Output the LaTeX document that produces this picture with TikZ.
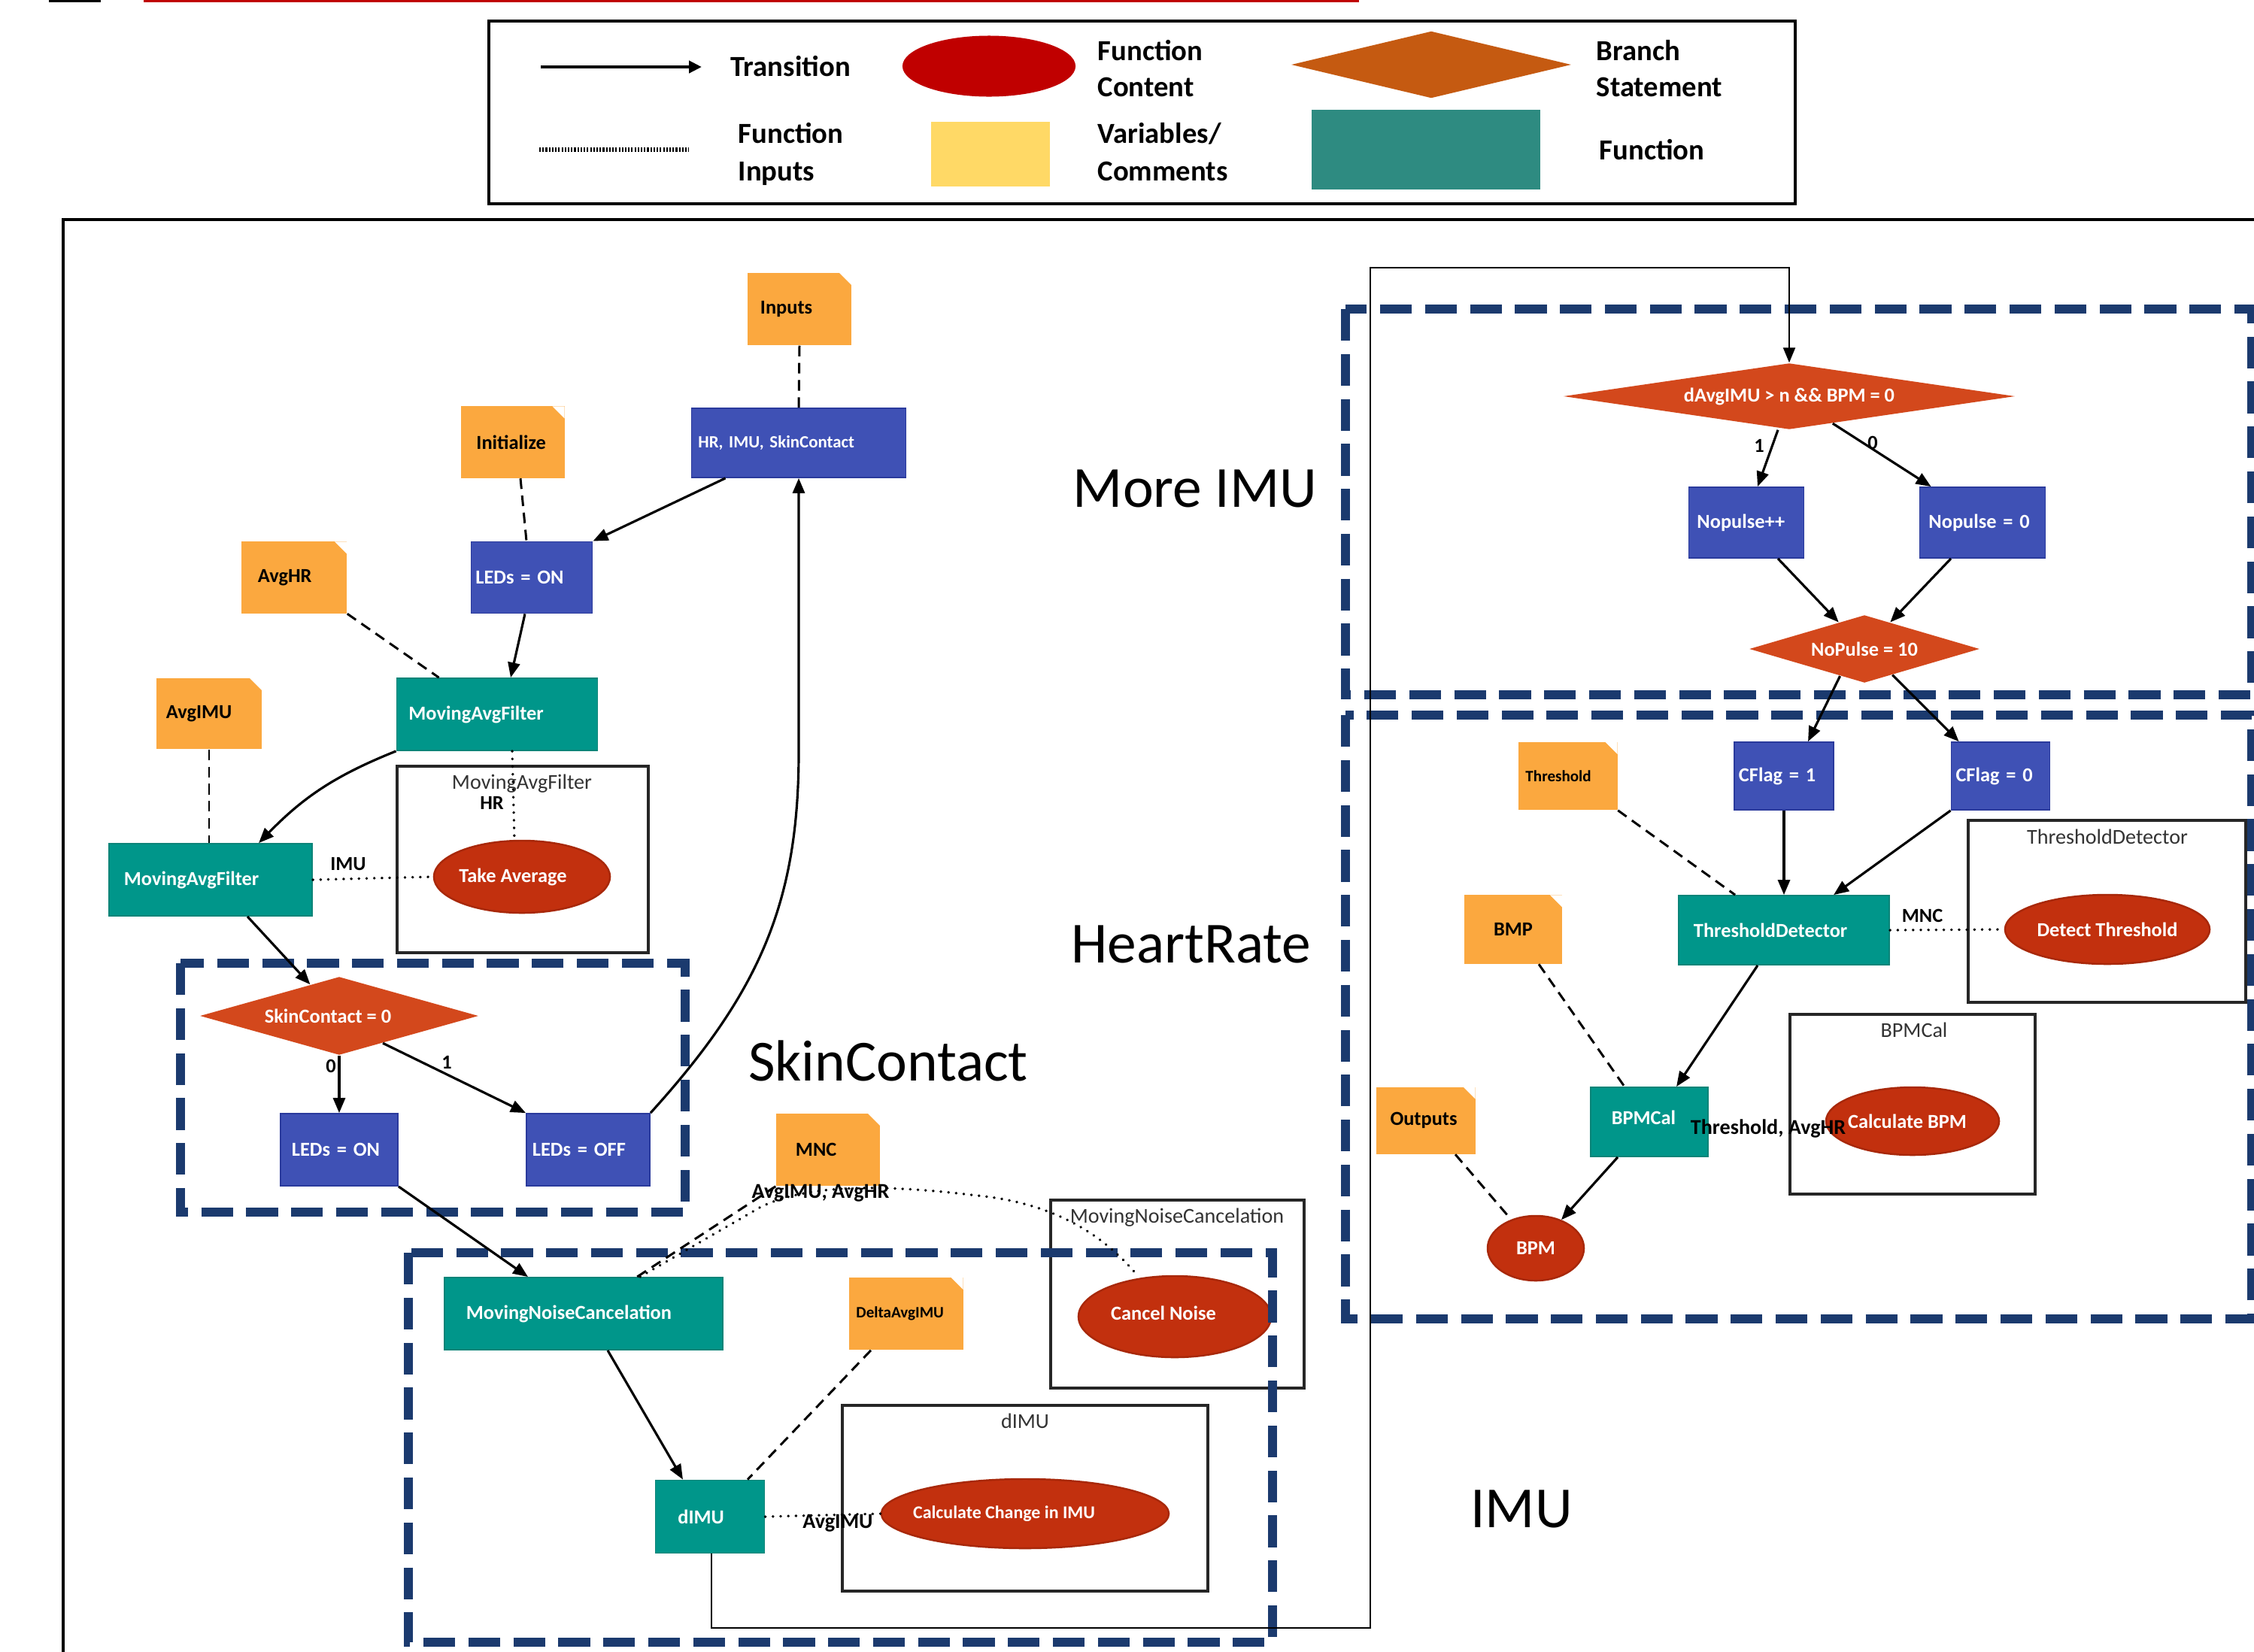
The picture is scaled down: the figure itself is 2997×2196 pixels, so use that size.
\documentclass[tikz,border=0pt]{standalone}
\usepackage{fontspec}
\setmainfont{Carlito}
\usetikzlibrary{arrows.meta,shapes.geometric}
\definecolor{varor}{HTML}{FBA83F}
\definecolor{fnblue}{HTML}{3F51B5}
\definecolor{fnblueb}{HTML}{2A3A9C}
\definecolor{fnteal}{HTML}{00968A}
\definecolor{fntealb}{HTML}{0B8478}
\definecolor{brred}{HTML}{D3481C}
\definecolor{elred}{HTML}{C2300E}
\definecolor{elredb}{HTML}{A8280A}
\definecolor{navyc}{HTML}{1B3A6E}
\definecolor{ttl}{HTML}{333333}
\definecolor{lgred}{HTML}{C00000}
\definecolor{lgorange}{HTML}{C55A11}
\definecolor{lgyellow}{HTML}{FFD966}
\definecolor{lgteal}{HTML}{2E8B81}
\tikzset{
  bf/.style={font=\bfseries\fontsize{#1}{#1}\selectfont},
  bbase/.style={rectangle, inner ysep=0pt, align=left},
  fnb/.style={bbase, fill=fnblue, draw=fnblueb, line width=0.5pt, text=white, bf=7.5},
  fnt/.style={bbase, fill=fnteal, draw=fntealb, line width=0.5pt, text=white, bf=7.5},
  note/.style={bbase, fill=varor, text=black, bf=7.5,
     path picture={\fill[white] ([xshift=-0.16cm]path picture bounding box.north east) -- (path picture bounding box.north east) -- ([yshift=-0.16cm]path picture bounding box.north east) -- cycle;}},
  brd/.style={diamond, fill=brred, text=white, inner sep=0pt, bf=7.5},
  ell/.style={ellipse, fill=elred, draw=elredb, line width=0.7pt, text=white, inner sep=0pt, bf=7.5},
  etxt/.style={text=white, inner sep=0pt, bf=7.5},
  lbl/.style={text=black, inner sep=0pt, bf=7.5},
  ttlf/.style={text=ttl, inner sep=0pt, font=\fontsize{8}{9}\selectfont},
  big/.style={inner sep=0pt, font=\fontsize{22}{26}\selectfont},
  lgt/.style={inner sep=0pt, anchor=west, text height=0.27cm, text depth=0cm, bf=11},
  frm/.style={draw=black!85, line width=0.9pt},
  arr/.style={draw=black, line width=0.9pt, -{Triangle[length=0.2cm,width=0.16cm]}},
  dsh/.style={draw=black, line width=0.85pt, dash pattern=on 4pt off 2.5pt},
  dotl/.style={draw=black, line width=1.0pt, dash pattern=on 0.1pt off 2.8pt, line cap=round},
  navyb/.style={draw=navyc, line width=3.4pt, dash pattern=on 12pt off 5pt},
}
\begin{document}
\begin{tikzpicture}[x=0.01cm,y=-0.01cm]
\useasboundingbox (0,0) rectangle (2997,2196);
\fill[white] (0,0) rectangle (2997,2196);
% top marks
\fill[lgred] (191,0) rectangle (1807,3);
\fill[black] (65,0) rectangle (134,3);
% legend
\draw[line width=1.1pt] (650,28) rectangle (2387,271);
\coordinate (lga) at (719,89); \coordinate (lgb) at (933,89);
\draw[line width=1.4pt, -{Triangle[length=0.17cm,width=0.16cm]}] (lga) -- (lgb);
\node[lgt] (lt1) at (971,88) {Transition};
\node[ellipse, fill=lgred, minimum width=2.30cm, minimum height=0.81cm, inner sep=0pt] (lgell) at (1315,88) {};
\node[lgt] (lt2) at (1459,67) {Function};
\node[lgt] (lt3) at (1459,115) {Content};
\node[diamond, fill=lgorange, minimum width=3.72cm, minimum height=0.89cm, aspect=4, inner sep=0pt] (lgdia) at (1903,86) {};
\node[lgt] (lt4) at (2122,67) {Branch};
\node[lgt] (lt5) at (2122,115) {Statement};
\coordinate (lgc) at (717,199); \coordinate (lgd) at (916,199);
\draw[line width=1.6pt, dash pattern=on 0.6pt off 0.6pt] (lgc) -- (lgd);
\node[lgt] (lt6) at (981,177) {Function};
\node[lgt] (lt7) at (981,227) {Inputs};
\node[fill=lgyellow, minimum width=1.57cm, minimum height=0.85cm, inner sep=0pt] (lgyel) at (1317,205) {};
\node[lgt] (lt8) at (1459,177) {Variables/};
\node[lgt] (lt9) at (1459,227) {Comments};
\node[fill=lgteal, minimum width=3.04cm, minimum height=1.05cm, inner sep=0pt] (lgtl) at (1896,199) {};
\node[lgt] (lt10) at (2126,199) {Function};
% main frame
\draw[line width=1.4pt] (2997,292) -- (84,292) -- (84,2200);
% function frames
\draw[frm] (528,1019) rectangle (862,1267);
\node[ttlf] (t1) at (694,1042) {MovingAvgFilter};
\draw[frm] (1397,1596) rectangle (1734,1846);
\node[ttlf] (t2) at (1565,1619) {MovingNoiseCancelation};
\draw[frm] (1120,1869) rectangle (1606,2116);
\node[ttlf] (t3) at (1363,1890) {dIMU};
\draw[frm] (2617,1091) rectangle (2986,1333);
\node[ttlf] (t4) at (2802,1113) {ThresholdDetector};
\draw[frm] (2380,1349) rectangle (2706,1588);
\node[ttlf] (t5) at (2545,1370) {BPMCal};
% left nodes
\node[note, minimum height=.96cm, inner xsep=.17cm, text width=1.04cm] (inputs) at (1063,411) {Inputs};
\node[fnb, minimum height=.92cm, inner xsep=.09cm, text width=2.67cm, bf=6.5] (hr) at (1062,589) {HR, IMU, SkinContact};
\node[note, minimum height=.95cm, inner xsep=.2cm, text width=.97cm] (init) at (682,588) {Initialize};
\node[fnb, minimum height=.95cm, inner xsep=.06cm, text width=1.49cm] (ledon1) at (707,768) {LEDs = ON};
\node[note, minimum height=.95cm, inner xsep=.22cm, text width=.96cm] (avghr) at (391,768) {AvgHR};
\node[fnt, minimum height=.96cm, inner xsep=.16cm, text width=2.35cm] (mafhr) at (661,950) {MovingAvgFilter};
\node[note, minimum height=.94cm, inner xsep=.13cm, text width=1.14cm] (avgimu) at (278,949) {AvgIMU};
\node[fnt, minimum height=.96cm, inner xsep=.2cm, text width=2.30cm] (mafimu) at (280,1170) {MovingAvgFilter};
\node[ell, minimum width=2.34cm, minimum height=.96cm, label={[etxt, xshift=-0.12cm]center:Take Average}] (takeavg) at (694,1166) {};
\node[brd, minimum width=3.70cm, minimum height=1.04cm, aspect=3.5] (skd) at (451,1351) {SkinContact = 0\hspace*{0.3cm}};
\node[fnb, minimum height=.96cm, inner xsep=.15cm, text width=1.26cm] (ledon2) at (451,1529) {LEDs = ON};
\node[fnb, minimum height=.96cm, inner xsep=.08cm, text width=1.48cm] (ledoff) at (782,1529) {LEDs = OFF};
\node[fnt, minimum height=.96cm, inner xsep=.29cm, text width=3.12cm] (movnc) at (776,1747) {MovingNoiseCancelation};
\node[note, minimum height=.96cm, inner xsep=.26cm, text width=.86cm] (mnc) at (1101,1529) {MNC};
\node[ell, minimum width=2.56cm, minimum height=1.08cm, label={[etxt, xshift=-0.15cm, yshift=0.05cm]center:Cancel Noise}] (cancel) at (1562,1751) {};
\node[note, minimum height=.96cm, inner xsep=.09cm, text width=1.33cm, bf=6] (delta) at (1205,1747) {DeltaAvgIMU};
\node[fnt, minimum height=.97cm, inner xsep=.3cm, text width=.85cm] (dimu) at (944,2017) {dIMU};
\node[ell, minimum width=3.82cm, minimum height=.92cm, label={[etxt, bf=6.8, xshift=-0.28cm]center:Calculate Change in IMU}] (calcimu) at (1363,2013) {};
% right nodes
\node[brd, minimum width=6.0cm, minimum height=.88cm, aspect=6.8] (d1) at (2379,527) {dAvgIMU > n \&\& BPM = 0};
\node[fnb, minimum height=.94cm, inner xsep=.11cm, text width=1.31cm] (np1) at (2322,695) {Nopulse++};
\node[fnb, minimum height=.94cm, inner xsep=.12cm, text width=1.43cm] (np0) at (2636,695) {Nopulse = 0};
\node[brd, minimum width=3.06cm, minimum height=.90cm, aspect=3.4] (d2) at (2479,863) {NoPulse = 10};
\node[fnb, minimum height=.90cm, inner xsep=.06cm, text width=1.20cm] (cf1) at (2372,1032) {CFlag = 1};
\node[fnb, minimum height=.90cm, inner xsep=.06cm, text width=1.19cm] (cf0) at (2660,1032) {CFlag = 0};
\node[note, minimum height=.90cm, inner xsep=.09cm, text width=1.13cm, bf=6] (thr) at (2085,1032) {Threshold};
\node[fnt, minimum height=.92cm, inner xsep=.2cm, text width=2.40cm] (td) at (2372,1237) {ThresholdDetector};
\node[note, minimum height=.91cm, inner xsep=.39cm, text width=.52cm] (bmp) at (2012,1236) {BMP};
\node[ell, minimum width=2.72cm, minimum height=.92cm] (detect) at (2802,1236) {Detect Threshold};
\node[ell, minimum width=2.30cm, minimum height=.90cm, label={[etxt, xshift=-0.07cm]center:Calculate BPM}] (calcbpm) at (2543,1491) {};
\node[fnt, minimum height=.92cm, inner xsep=.28cm, text width=1.00cm, label={[etxt, text=white, anchor=west, xshift=0.28cm, yshift=0.06cm]west:BPMCal}] (bpmcal) at (2193,1492) {};
\node[note, minimum height=.89cm, inner xsep=.18cm, text width=.95cm] (outputs) at (1896,1490) {Outputs};
\node[ell, minimum width=1.28cm, minimum height=.86cm] (bpm) at (2042,1660) {BPM};
% dashed group boxes
\draw[navyb] (240,1281) rectangle (911,1612);
\draw[navyb] (543,1666) rectangle (1692,2184);
\draw[navyb] (1789,411) rectangle (2994,924);
\draw[navyb] (1789,951) rectangle (2994,1754);
% left edges
\draw[dsh] (inputs.south) -- (hr.north);
\draw[dsh] ([xshift=0.1cm]init.south) -- ([xshift=-0.07cm]ledon1.north);
\draw[arr] ([xshift=0.46cm]hr.south west) -- (ledon1.north east);
\draw[dsh] (avghr.south east) -- ([xshift=0.57cm]mafhr.north west);
\draw[arr] ([xshift=-0.09cm]ledon1.south) -- ([xshift=0.18cm]mafhr.north);
\draw[dsh] (avgimu.south) -- (avgimu.south |- mafimu.north);
\draw[arr] (mafhr.south west) to[bend right=12] ([xshift=0.64cm]mafimu.north);
\draw[dotl] ([xshift=0.2cm]mafhr.south) -- ([xshift=-0.1cm]takeavg.north);
\draw[dotl] (mafimu.east) -- (takeavg.west);
\draw[arr] ([xshift=0.49cm]mafimu.south) -- (skd);
\draw[arr] (skd.south) -- (ledon2.north);
\draw[arr] (skd.-32) -- (ledoff.north west);
\draw[arr] (ledon2.south east) -- ([xshift=1.12cm]movnc.north west);
\draw[arr] (ledoff.north east) .. controls (1010,1320) and (1062,1200) .. (1062,1000) -- (hr.south);
\draw[dsh] (mnc.south west) -- ([xshift=0.71cm]movnc.north);
\draw[dotl] ([xshift=0.75cm]movnc.north) -- (1010,1606) .. controls (1080,1570) and (1200,1578) .. (1300,1590) .. controls (1400,1600) and (1465,1640) .. ([xshift=-0.5cm]cancel.north);
\draw[arr] ([xshift=0.32cm]movnc.south) -- ([xshift=-0.36cm]dimu.north);
\draw[dsh] ([xshift=-0.47cm]delta.south) -- ([xshift=0.5cm]dimu.north);
\draw[dotl] (dimu.east) -- (calcimu.west);
\draw[arr, line width=0.6pt] ([xshift=0.02cm]dimu.south) |- (1822,2165) -- (1822,356) -| (d1.north);
% right edges
\draw[arr] ([xshift=-0.15cm]d1.south) -- ([xshift=0.15cm]np1.north);
\draw[arr] (d1.-32) -- ([xshift=0.16cm]np0.north west);
\draw[arr] ([xshift=0.42cm]np1.south) -- (d2.134);
\draw[arr] ([xshift=-0.42cm]np0.south) -- (d2.46);
\draw[arr] (d2.-132) -- ([xshift=0.32cm]cf1.north);
\draw[arr] (d2.-43) -- ([xshift=0.11cm]cf0.north west);
\draw[dsh] (thr.south east) -- ([xshift=0.76cm]td.north west);
\draw[arr] (cf1.south) -- (td.north);
\draw[arr] (cf0.south west) -- ([xshift=0.66cm]td.north);
\draw[dotl] (td.east) -- (detect.west);
\draw[dsh] ([xshift=0.34cm]bmp.south) -- ([xshift=-0.33cm]bpmcal.north);
\draw[arr] ([xshift=-0.35cm]td.south) -- ([xshift=0.36cm]bpmcal.north);
\draw[dsh] ([xshift=0.39cm]outputs.south) -- (bpm);
\draw[arr] ([xshift=-0.42cm]bpmcal.south) -- (bpm);
% edge labels
\node[lbl] (lhr) at (654,1068) {HR};
\node[lbl] (limu) at (463,1149) {IMU};
\node[lbl] (l0) at (440,1418) {0};
\node[lbl] (l1) at (594,1413) {1};
\node[lbl, bf=8] (lmnc1) at (1091,1587) {AvgIMU, AvgHR};
\node[lbl, bf=8] (lavg) at (1114,2026) {AvgIMU};
\node[lbl] (ld1) at (2339,593) {1};
\node[lbl] (ld0) at (2490,589) {0};
\node[lbl] (lmnc2) at (2556,1218) {MNC};
\node[lbl, bf=8] (lthr) at (2351,1501) {Threshold, AvgHR};
% section titles
\node[big] (ttlmore) at (1589,650) {More IMU};
\node[big] (ttlhr) at (1584,1256) {HeartRate};
\node[big] (ttlsk) at (1181,1411) {SkinContact};
\node[big] (ttlimu) at (2023,2007) {IMU};
\end{tikzpicture}
\end{document}
